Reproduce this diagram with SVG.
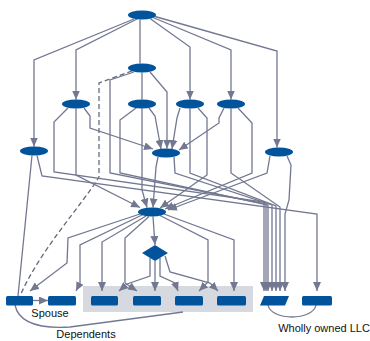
<svg xmlns="http://www.w3.org/2000/svg" width="370" height="341" viewBox="0 0 370 341">
<style>
.n{fill:#01549c;stroke:none}
.e{fill:none;stroke:#737891;stroke-width:1.3}
.a{marker-end:url(#ah)}
.d{stroke-dasharray:5 3;stroke:#666a78}
.t{font-family:"Liberation Sans",Arial,sans-serif;font-size:11px;fill:#111}
</style>
<defs>
<marker id="ah" markerUnits="userSpaceOnUse" markerWidth="9" markerHeight="8" refX="9" refY="4" orient="auto">
<path d="M0,0 L9,4 L0,8 z" fill="#737891"/>
</marker>
</defs>
<rect id="cluster" x="83" y="286" width="170" height="26" fill="#d6d9df"/>
<g id="connectors">
<path class="e" d="M140 19.5 L140 63.5"/>
<path class="e a" d="M134 19 L34 60 L34 146.5"/>
<path class="e a" d="M137 19 L76 50 L76 99.5"/>
<path class="e a" d="M150 18.5 L190 47 L190 99.5"/>
<path class="e a" d="M153 17.5 L231 50 L231 99.5"/>
<path class="e a" d="M155 16.5 L277 51 L277 147.5"/>
<path class="e" d="M142 72.5 L142 99.5"/>
<path class="e d" d="M132 71 L99 83 L99 177 C82 205 40 250 20 296"/>
<path class="e a" d="M134 72 L110 80 L110 173 L266 204 L266 291"/>
<path class="e a" d="M150 72 L167 92 L167 148.5"/>
<path class="e a" d="M68 108 L54 122 L54 172 L264 202 L264 291"/>
<path class="e a" d="M76 108.5 L76 175 L140 207.5"/>
<path class="e a" d="M84 108 L90 116 L90 128 L153 149"/>
<path class="e a" d="M136 108 L120 120 L120 173 L268 205 L268 291"/>
<path class="e a" d="M142 108.5 L142 190 L147 207.5"/>
<path class="e a" d="M149 108 L155 116 L161 149"/>
<path class="e a" d="M180 108 L177 118 L172 149"/>
<path class="e a" d="M190 108.5 L190 173 L276 206 L276 291"/>
<path class="e a" d="M198 108 L207 118 L207 175 L160 208"/>
<path class="e a" d="M224 108 L219 118 L219 123 L179 150"/>
<path class="e a" d="M231 108.5 L231 173 L280 207 L280 291"/>
<path class="e a" d="M238 108 L252 123 L252 173 L165 209"/>
<path class="e a" d="M158 157 L156 167 L153 207.5"/>
<path class="e a" d="M174 157 L175 173 L272 205 L272 291"/>
<path class="e a" d="M270 156 L267 173 L168 210"/>
<path class="e a" d="M287 156 L291 165 L289 200 L285 214 L285 291"/>
<path class="e" d="M32 155.5 L18 296"/>
<path class="e a" d="M37 155.5 L42 176 L317 214 L317 291"/>
<path class="e a" d="M140 214 L68 238 L67 263 L30 291"/>
<path class="e a" d="M142 215 L80 245 L80 283 L76 291"/>
<path class="e a" d="M146 216 L102 242 L102 291"/>
<path class="e a" d="M149 216.5 L125 238 L125 283 L137 291"/>
<path class="e a" d="M153 216.5 L155 245"/>
<path class="e a" d="M160 215.5 L208 240 L208 282 L199 291"/>
<path class="e a" d="M164 214 L234 240 L234 291"/>
<path class="e a" d="M150 258 L150 276 L127 284 L119 291"/>
<path class="e a" d="M155 261 L155 291"/>
<path class="e a" d="M160 258 L160 276 L175 283 L178 291"/>
<path class="e a" d="M165 256 L170 272 L210 283 L218 291"/>
<path class="e a" d="M33 300.5 L48 300.5"/>
<path class="e" d="M15 305 Q20 330 70 327 L183 312"/>
<path class="e" d="M268 305 C271 321 313 321 316 305"/>
</g>
<g id="nA"><ellipse class="n" cx="142" cy="15" rx="14" ry="4.5"/></g>
<g id="nB"><ellipse class="n" cx="142" cy="68" rx="14" ry="4.5"/></g>
<g id="nC"><ellipse class="n" cx="76" cy="104" rx="14" ry="4.5"/></g>
<g id="nD"><ellipse class="n" cx="142" cy="104" rx="14" ry="4.5"/></g>
<g id="nE"><ellipse class="n" cx="190" cy="104" rx="14" ry="4.5"/></g>
<g id="nF"><ellipse class="n" cx="231" cy="104" rx="14" ry="4.5"/></g>
<g id="nG"><ellipse class="n" cx="34" cy="151" rx="14" ry="4.5"/></g>
<g id="nH"><ellipse class="n" cx="166" cy="153" rx="14" ry="4.5"/></g>
<g id="nI"><ellipse class="n" cx="279" cy="152" rx="14" ry="4.5"/></g>
<g id="nJ"><ellipse class="n" cx="152" cy="212" rx="14" ry="4.5"/></g>
<g id="nDia"><polygon class="n" points="142,253 155,245 168,253 155,261"/></g>
<g id="nR1"><rect class="n" x="6" y="296" width="27" height="9.5" rx="1.5"/></g>
<g id="nR2"><rect class="n" x="48" y="296" width="28" height="9.5" rx="1.5"/></g>
<g id="nR3"><rect class="n" x="91" y="296" width="27" height="9.5" rx="1.5"/></g>
<g id="nR4"><rect class="n" x="133" y="296" width="28" height="9.5" rx="1.5"/></g>
<g id="nR5"><rect class="n" x="175" y="296" width="28" height="9.5" rx="1.5"/></g>
<g id="nR6"><rect class="n" x="217" y="296" width="29" height="9.5" rx="1.5"/></g>
<g id="nR7"><polygon class="n" points="264,296 289,296 285,305.5 260,305.5"/></g>
<g id="nR8"><rect class="n" x="302" y="296" width="30" height="9.5" rx="1.5"/></g>
<text class="t" x="50" y="317" text-anchor="middle">Spouse</text>
<text class="t" x="86" y="337.5" text-anchor="middle">Dependents</text>
<text class="t" x="324" y="332" text-anchor="middle">Wholly owned LLC</text>
</svg>
